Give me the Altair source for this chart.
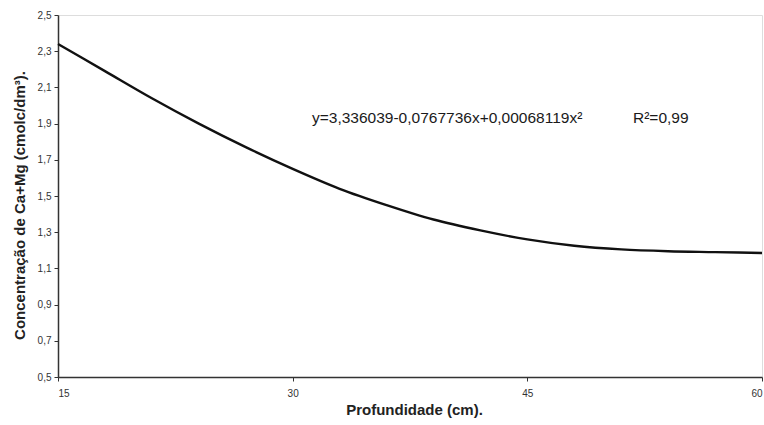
import altair as alt
import pandas as pd

# Values
depth = [15, 18, 21, 24, 27, 30, 33, 36, 39, 42, 45, 48, 51, 54, 57, 60]
conc = [2.34, 2.19, 2.04, 1.90, 1.77, 1.65, 1.54, 1.45, 1.37, 1.31, 1.26, 1.225, 1.205, 1.195, 1.19, 1.185]

y_ticks = [0.5, 0.7, 0.9, 1.1, 1.3, 1.5, 1.7, 1.9, 2.1, 2.3, 2.5]
x_ticks = [15, 30, 45, 60]

equation = "y=3,336039-0,0767736x+0,00068119x²"
r2 = "R²=0,99"

df = pd.DataFrame({"x": depth, "y": conc})
FONT = "Liberation Sans"

line = alt.Chart(df).mark_line(color="#111111", strokeWidth=2.4, interpolate="monotone").encode(
    x=alt.X("x:Q", scale=alt.Scale(domain=[15, 60], nice=False, zero=False),
            axis=alt.Axis(values=x_ticks, title="Profundidade (cm).", grid=False,
                          labelFontSize=10, labelColor="#333333", labelFont=FONT,
                          tickSize=4, tickColor="#333333", domainColor="#333333", domainWidth=1.5,
                          titleFont=FONT, titleFontSize=15, titleFontWeight="bold", titleColor="#222222",
                          titlePadding=4, labelPadding=7, titleX=356)),
    y=alt.Y("y:Q", scale=alt.Scale(domain=[0.5, 2.5], nice=False, zero=False),
            axis=alt.Axis(values=y_ticks, title="Concentração de Ca+Mg (cmolc/dm³).", grid=False,
                          labelExpr="replace(format(datum.value, '.1f'), '.', ',')",
                          labelFontSize=10, labelColor="#333333", labelFont=FONT,
                          tickSize=4, tickColor="#333333", domainColor="#333333", domainWidth=1.5,
                          titleFont=FONT, titleFontSize=15, titleFontWeight="bold", titleColor="#222222",
                          titlePadding=10, labelPadding=3, titleY=190)),
)

eq = alt.Chart(pd.DataFrame({"t": [equation]})).mark_text(
    align="left", baseline="middle", font=FONT, fontSize=15.5, color="#1a1a1a"
).encode(text="t:N", x=alt.value(254), y=alt.value(103))
rr = alt.Chart(pd.DataFrame({"t": [r2]})).mark_text(
    align="left", baseline="middle", font=FONT, fontSize=15.5, color="#1a1a1a"
).encode(text="t:N", x=alt.value(575), y=alt.value(103))

chart = alt.layer(line, eq, rr).properties(
    width=704, height=362,
    autosize=alt.AutoSizeParams(type="none"),
    padding={"left": 58, "top": 15, "right": 2, "bottom": 48},
).configure_view(stroke=None).configure(background="white")

chart.save("out.html", embed_options={"renderer": "svg", "actions": False})
